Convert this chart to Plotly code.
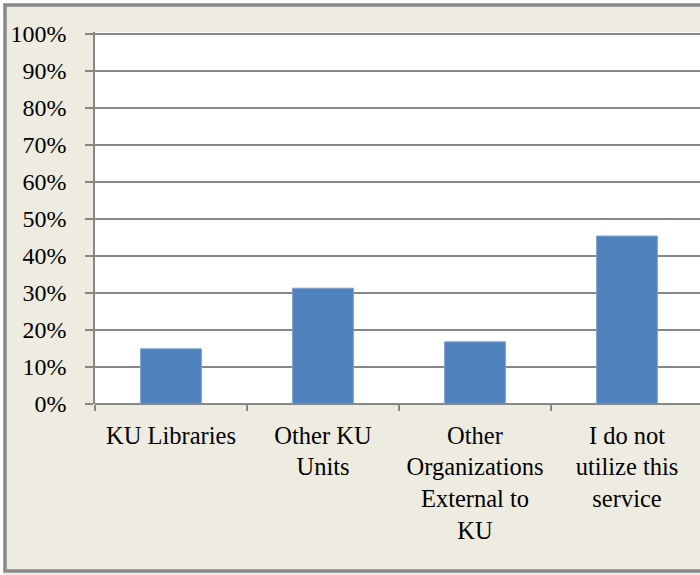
import plotly.graph_objects as go

categories = ["KU Libraries", "Other KU<br>Units", "Other<br>Organizations<br>External to<br>KU", "I do not<br>utilize this<br>service"]
values = [0.149, 0.313, 0.168, 0.454]
tick_vals = [0, 0.1, 0.2, 0.3, 0.4, 0.5, 0.6, 0.7, 0.8, 0.9, 1.0]
tick_text = ["0%", "10%", "20%", "30%", "40%", "50%", "60%", "70%", "80%", "90%", "100%"]

FONT = "Liberation Serif, Times New Roman, serif"
GRID = "#878787"

fig = go.Figure()
fig.add_trace(go.Bar(
    x=categories, y=values,
    marker=dict(color="#4F81BD", line=dict(color="#7EA2D2", width=1)),
    width=0.4,
))

L, T, B = 95, 32, 171
PW, PH = 700 - L, 575 - T - B
YMAX = PH / 370.0

def px2x(p):
    return (p - L) / PW

def py2y(p):
    return (575 - B - p) / PH

fig.add_shape(type="rect", xref="paper", yref="paper",
              x0=px2x(5), x1=px2x(730), y0=py2y(571), y1=py2y(5),
              fillcolor="rgba(0,0,0,0)", line=dict(color="#8A8A8A", width=3.5))
fig.add_shape(type="rect", xref="paper", yref="paper",
              x0=px2x(1), x1=px2x(740), y0=py2y(590), y1=py2y(1),
              fillcolor="rgba(0,0,0,0)", line=dict(color="white", width=4))

fig.update_layout(
    width=700, height=575,
    margin=dict(l=L, r=0, t=T, b=B),
    paper_bgcolor="#EEECE1", plot_bgcolor="white",
    font=dict(family=FONT, size=24, color="black"),
    showlegend=False,
    xaxis=dict(
        type="category",
        range=[-0.5, 3.5 - 3 / 152],
        tickson="boundaries", ticks="outside", ticklen=6, tickwidth=1.5, tickcolor=GRID,
        showline=False, showgrid=False, zeroline=False,
        ticklabelstandoff=14,
        tickfont=dict(family=FONT, size=24.5, color="black"),
    ),
    yaxis=dict(
        range=[0, YMAX], tickmode="array", tickvals=tick_vals, ticktext=tick_text,
        ticks="outside", ticklen=8, tickwidth=1.5, tickcolor=GRID,
        showgrid=True, gridcolor=GRID, gridwidth=1.5,
        showline=True, linecolor=GRID, linewidth=1.5,
        zeroline=True, zerolinecolor=GRID, zerolinewidth=1.5,
        ticklabelstandoff=14,
        tickfont=dict(family=FONT, size=24, color="black"),
    ),
)

fig.write_html("out.html", config={"displayModeBar": False},
               post_script="document.body.style.margin='0';document.body.style.overflow='hidden';")
